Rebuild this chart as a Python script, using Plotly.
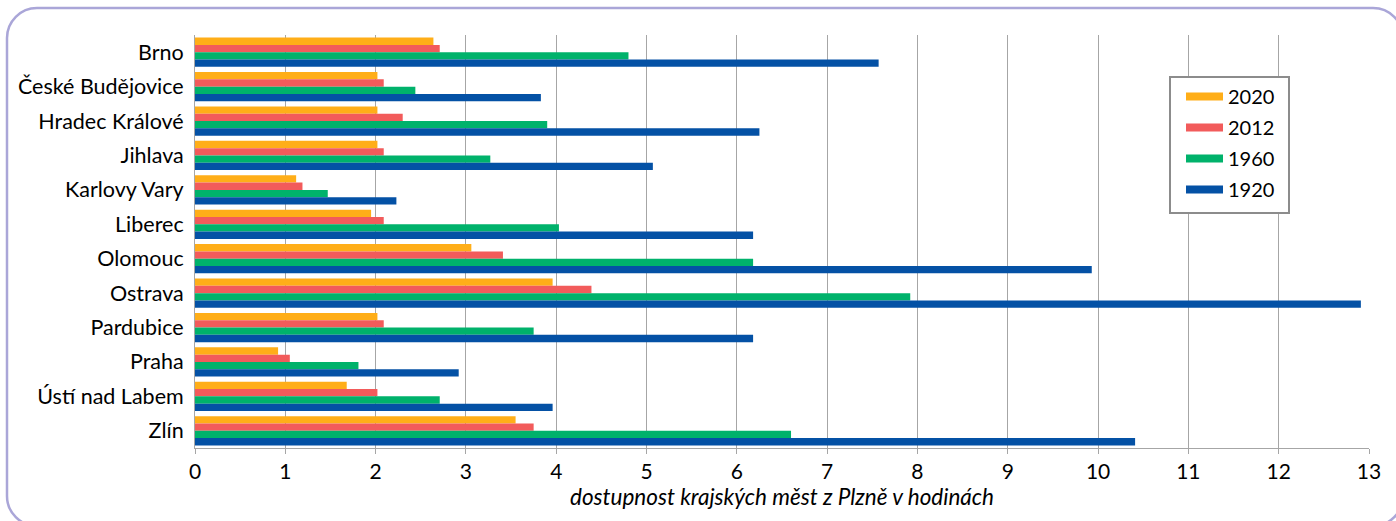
import plotly.graph_objects as go

# Travel time (hours) from Plzeň to the regional capitals
cities = ["Brno", "České Budějovice", "Hradec Králové", "Jihlava", "Karlovy Vary",
          "Liberec", "Olomouc", "Ostrava", "Pardubice", "Praha", "Ústí nad Labem", "Zlín"]

hours_2020 = [2.64, 2.02, 2.02, 2.02, 1.12, 1.95, 3.06, 3.96, 2.02, 0.92, 1.68, 3.55]
hours_2012 = [2.71, 2.09, 2.30, 2.09, 1.19, 2.09, 3.41, 4.39, 2.09, 1.05, 2.02, 3.75]
hours_1960 = [4.80, 2.44, 3.90, 3.27, 1.47, 4.03, 6.18, 7.92, 3.75, 1.81, 2.71, 6.60]
hours_1920 = [7.57, 3.83, 6.25, 5.07, 2.23, 6.18, 9.93, 12.91, 6.18, 2.92, 3.96, 10.41]

years = ["2020", "2012", "1960", "1920"]
series = [hours_2020, hours_2012, hours_1960, hours_1920]
colors = ["#FFAE18", "#F25B5B", "#00B26B", "#0451A5"]

FONT = "Lato"
GRID = "#A6A6A6"

fig = go.Figure()

for name, vals, col in zip(years, series, colors):
    fig.add_trace(go.Bar(
        x=vals, y=cities, orientation="h", name=name,
        marker=dict(color=col, line=dict(width=0)),
        showlegend=False,
    ))

# legend entries drawn as wide line swatches
for name, col in zip(years, colors):
    fig.add_trace(go.Scatter(
        x=[None], y=[None], mode="lines", name=name,
        line=dict(color=col, width=8), legendgroup=name,
    ))

# page-pixel geometry of the plot area
L, T = 195, 448      # plot-left px, plot-bottom px
PW, PH = 1174, 413   # plot width / height px


def px(x, y):
    """Page pixel -> pixel offset from the plot's lower-left corner."""
    return f"{x - L},{T - y}"


def rounded_rect(x0, y0, x1, y1, r):
    k = 0.5523 * r
    return (
        f"M {px(x0 + r, y0)} L {px(x1 - r, y0)} "
        f"C {px(x1 - r + k, y0)} {px(x1, y0 + r - k)} {px(x1, y0 + r)} "
        f"L {px(x1, y1 - r)} "
        f"C {px(x1, y1 - r + k)} {px(x1 - r + k, y1)} {px(x1 - r, y1)} "
        f"L {px(x0 + r, y1)} "
        f"C {px(x0 + r - k, y1)} {px(x0, y1 - r + k)} {px(x0, y1 - r)} "
        f"L {px(x0, y0 + r)} "
        f"C {px(x0, y0 + r - k)} {px(x0 + r - k, y0)} {px(x0 + r, y0)} Z"
    )


pixel_shape = dict(type="path", xref="paper", yref="paper",
                   xsizemode="pixel", ysizemode="pixel", xanchor=0, yanchor=0,
                   layer="above")

# rounded frame around the whole chart
fig.add_shape(path=rounded_rect(7, 8, 1403, 526, 30),
              line=dict(color="#AAA6D8", width=2.5),
              fillcolor="rgba(0,0,0,0)", **pixel_shape)

# legend box (white, hides the grid behind the legend)
fig.add_shape(path=rounded_rect(1170, 77, 1289, 213, 0),
              line=dict(color="#8C8C8C", width=2),
              fillcolor="white", **pixel_shape)

fig.update_layout(
    width=1396, height=521,
    margin=dict(l=L, r=1396 - L - PW, t=521 - 73 - PH, b=73),
    paper_bgcolor="white", plot_bgcolor="white",
    barmode="group", bargap=0.15, bargroupgap=0,
    font=dict(family=FONT, color="#000000"),
    showlegend=True,
    legend=dict(
        x=(1181 - L) / PW, y=(T - 77) / PH, xanchor="left", yanchor="top",
        borderwidth=0, bgcolor="rgba(0,0,0,0)",
        font=dict(family=FONT, size=20, color="#000000"),
        itemwidth=37, tracegroupgap=2, traceorder="grouped",
    ),
    xaxis=dict(
        range=[0, 13], dtick=1, tick0=0,
        showgrid=True, gridcolor=GRID, gridwidth=1,
        showline=True, linecolor=GRID, linewidth=1,
        ticks="outside", ticklen=5, tickcolor=GRID,
        tickfont=dict(family=FONT, size=21),
        zeroline=False,
        title=dict(text="<i>dostupnost krajských měst z Plzně v hodinách</i>",
                   font=dict(family=FONT, size=22.5), standoff=7),
    ),
    yaxis=dict(
        autorange="reversed", type="category",
        showline=True, linecolor=GRID, linewidth=1,
        showgrid=False, ticks="", ticklabelstandoff=6,
        tickfont=dict(family=FONT, size=21.5),
    ),
)

fig.write_html("out.html")
